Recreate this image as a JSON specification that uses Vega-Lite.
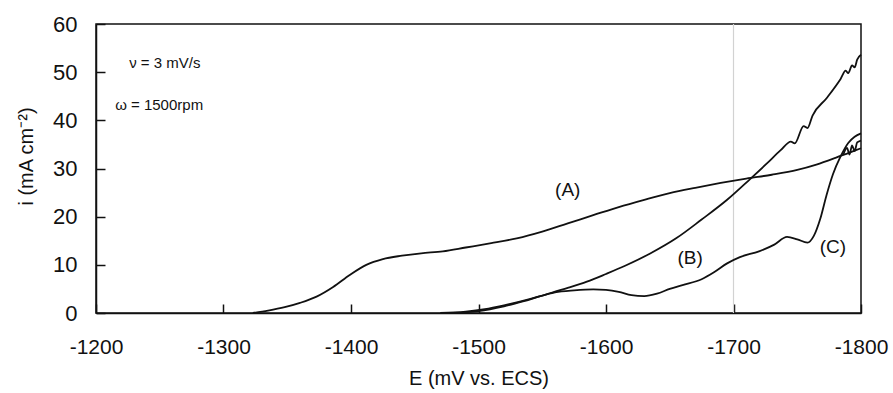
{
  "$schema": "https://vega.github.io/schema/vega-lite/v6.json",
  "autosize": "none",
  "width": 765,
  "height": 289,
  "padding": {"left": 96, "top": 24, "right": 32, "bottom": 80},
  "config": {
    "font": "Liberation Sans",
    "view": {"stroke": "#111", "strokeWidth": 1.5},
    "axis": {"grid": false, "domainColor": "#111", "domainWidth": 1.5, "tickColor": "#111", "labelColor": "#111", "titleColor": "#111", "labelFont": "Liberation Sans", "titleFont": "Liberation Sans", "titleFontWeight": "normal"}
  },
  "datasets": {
    "curves": [
      {"s": "A", "E": -1323, "i": 0}, {"s": "A", "E": -1335, "i": 0.5}, {"s": "A", "E": -1348, "i": 1.2}, {"s": "A", "E": -1360, "i": 2.1}, {"s": "A", "E": -1373, "i": 3.4}, {"s": "A", "E": -1386, "i": 5.4}, {"s": "A", "E": -1399, "i": 7.9}, {"s": "A", "E": -1412, "i": 10.0}, {"s": "A", "E": -1425, "i": 11.2}, {"s": "A", "E": -1440, "i": 11.9}, {"s": "A", "E": -1455, "i": 12.4}, {"s": "A", "E": -1472, "i": 12.8}, {"s": "A", "E": -1490, "i": 13.6}, {"s": "A", "E": -1510, "i": 14.5}, {"s": "A", "E": -1530, "i": 15.5}, {"s": "A", "E": -1550, "i": 16.9}, {"s": "A", "E": -1570, "i": 18.6}, {"s": "A", "E": -1590, "i": 20.3}, {"s": "A", "E": -1610, "i": 22.0}, {"s": "A", "E": -1630, "i": 23.5}, {"s": "A", "E": -1650, "i": 24.9}, {"s": "A", "E": -1670, "i": 26.0}, {"s": "A", "E": -1690, "i": 27.0}, {"s": "A", "E": -1710, "i": 27.9}, {"s": "A", "E": -1730, "i": 28.7}, {"s": "A", "E": -1750, "i": 29.7}, {"s": "A", "E": -1765, "i": 30.8}, {"s": "A", "E": -1780, "i": 32.2}, {"s": "A", "E": -1790, "i": 33.2}, {"s": "A", "E": -1800, "i": 34.2},
      {"s": "B", "E": -1470, "i": 0}, {"s": "B", "E": -1490, "i": 0.3}, {"s": "B", "E": -1505, "i": 0.8}, {"s": "B", "E": -1520, "i": 1.6}, {"s": "B", "E": -1540, "i": 2.9}, {"s": "B", "E": -1556, "i": 4.1}, {"s": "B", "E": -1570, "i": 5.2}, {"s": "B", "E": -1585, "i": 6.5}, {"s": "B", "E": -1600, "i": 8.1}, {"s": "B", "E": -1615, "i": 9.8}, {"s": "B", "E": -1635, "i": 12.4}, {"s": "B", "E": -1655, "i": 15.5}, {"s": "B", "E": -1675, "i": 19.4}, {"s": "B", "E": -1695, "i": 23.5}, {"s": "B", "E": -1713, "i": 27.8}, {"s": "B", "E": -1726, "i": 31.0}, {"s": "B", "E": -1737, "i": 33.8}, {"s": "B", "E": -1745, "i": 35.6}, {"s": "B", "E": -1748, "i": 35.2}, {"s": "B", "E": -1755, "i": 38.8}, {"s": "B", "E": -1758, "i": 38.4}, {"s": "B", "E": -1762, "i": 41.0}, {"s": "B", "E": -1773, "i": 44.6}, {"s": "B", "E": -1784, "i": 48.6}, {"s": "B", "E": -1788, "i": 50.3}, {"s": "B", "E": -1790, "i": 49.8}, {"s": "B", "E": -1793, "i": 51.4}, {"s": "B", "E": -1795, "i": 51.0}, {"s": "B", "E": -1797, "i": 52.6}, {"s": "B", "E": -1800, "i": 53.6},
      {"s": "C", "E": -1480, "i": 0}, {"s": "C", "E": -1500, "i": 0.4}, {"s": "C", "E": -1520, "i": 1.4}, {"s": "C", "E": -1540, "i": 2.8}, {"s": "C", "E": -1560, "i": 4.3}, {"s": "C", "E": -1575, "i": 4.7}, {"s": "C", "E": -1590, "i": 4.9}, {"s": "C", "E": -1600, "i": 4.8}, {"s": "C", "E": -1610, "i": 4.4}, {"s": "C", "E": -1620, "i": 3.7}, {"s": "C", "E": -1630, "i": 3.5}, {"s": "C", "E": -1640, "i": 4.0}, {"s": "C", "E": -1650, "i": 5.0}, {"s": "C", "E": -1660, "i": 5.8}, {"s": "C", "E": -1675, "i": 7.0}, {"s": "C", "E": -1685, "i": 8.5}, {"s": "C", "E": -1695, "i": 10.3}, {"s": "C", "E": -1705, "i": 11.6}, {"s": "C", "E": -1720, "i": 12.8}, {"s": "C", "E": -1732, "i": 14.2}, {"s": "C", "E": -1742, "i": 15.8}, {"s": "C", "E": -1750, "i": 15.3}, {"s": "C", "E": -1758, "i": 14.6}, {"s": "C", "E": -1763, "i": 16.0}, {"s": "C", "E": -1768, "i": 19.5}, {"s": "C", "E": -1773, "i": 24.5}, {"s": "C", "E": -1778, "i": 28.8}, {"s": "C", "E": -1784, "i": 32.5}, {"s": "C", "E": -1790, "i": 35.3}, {"s": "C", "E": -1795, "i": 36.6}, {"s": "C", "E": -1800, "i": 37.3},
      {"s": "Cn", "E": -1786, "i": 32.8}, {"s": "Cn", "E": -1789, "i": 34.3}, {"s": "Cn", "E": -1791, "i": 32.9}, {"s": "Cn", "E": -1793, "i": 34.8}, {"s": "Cn", "E": -1795, "i": 33.6}, {"s": "Cn", "E": -1797, "i": 35.4}, {"s": "Cn", "E": -1800, "i": 35.8}
    ],
    "curveLabels": [
      {"label": "(A)", "E": -1570, "i": 25.5},
      {"label": "(B)", "E": -1666, "i": 11.4},
      {"label": "(C)", "E": -1778, "i": 13.7}
    ],
    "notes": [
      {"label": "ν = 3 mV/s", "E": -1226, "i": 51.9},
      {"label": "ω = 1500rpm", "E": -1215, "i": 43.2}
    ],
    "grid": [{"E": -1700}]
  },
  "layer": [
    {
      "data": {"name": "grid"},
      "mark": {"type": "rule", "color": "#d2d2d2", "strokeWidth": 1.2},
      "encoding": {
        "x": {"field": "E", "type": "quantitative", "scale": {"domain": [-1800, -1200], "reverse": true, "nice": false}}
      }
    },
    {
      "data": {"name": "curves"},
      "mark": {"type": "line", "color": "#111", "strokeWidth": 1.8, "interpolate": "monotone"},
      "encoding": {
        "x": {"field": "E", "type": "quantitative", "scale": {"domain": [-1800, -1200], "reverse": true, "nice": false},
              "axis": {"orient": "bottom", "title": "E (mV vs. ECS)",
                       "values": [-1200, -1300, -1400, -1500, -1600, -1700, -1800],
                       "labelExpr": "datum.value + ''",
                       "tickSize": -9,
                       "tickWidth": 1.5, "labelFontSize": 21, "labelPadding": 32, "titleFontSize": 20, "titlePadding": 11, "labelFlush": false, "labelOverlap": false}},
        "y": {"field": "i", "type": "quantitative", "scale": {"domain": [0, 60], "nice": false},
              "axis": {"orient": "left", "title": "i (mA cm⁻²)",
                       "values": [0, 10, 20, 30, 40, 50, 60],
                       "labelExpr": "datum.value + ''",
                       "tickSize": -9,
                       "tickWidth": 1.5, "labelFontSize": 22, "labelPadding": 28, "titleFontSize": 20, "titlePadding": 16, "titleY": 132, "labelOverlap": false}},
        "detail": {"field": "s"}
      }
    },
    {
      "data": {"name": "curveLabels"},
      "mark": {"type": "text", "fontSize": 19, "color": "#111"},
      "encoding": {
        "x": {"field": "E", "type": "quantitative", "scale": {"domain": [-1800, -1200], "reverse": true, "nice": false}},
        "y": {"field": "i", "type": "quantitative", "scale": {"domain": [0, 60], "nice": false}},
        "text": {"field": "label"}
      }
    },
    {
      "data": {"name": "notes"},
      "mark": {"type": "text", "fontSize": 15, "align": "left", "color": "#111"},
      "encoding": {
        "x": {"field": "E", "type": "quantitative", "scale": {"domain": [-1800, -1200], "reverse": true, "nice": false}},
        "y": {"field": "i", "type": "quantitative", "scale": {"domain": [0, 60], "nice": false}},
        "text": {"field": "label"}
      }
    }
  ]
}
